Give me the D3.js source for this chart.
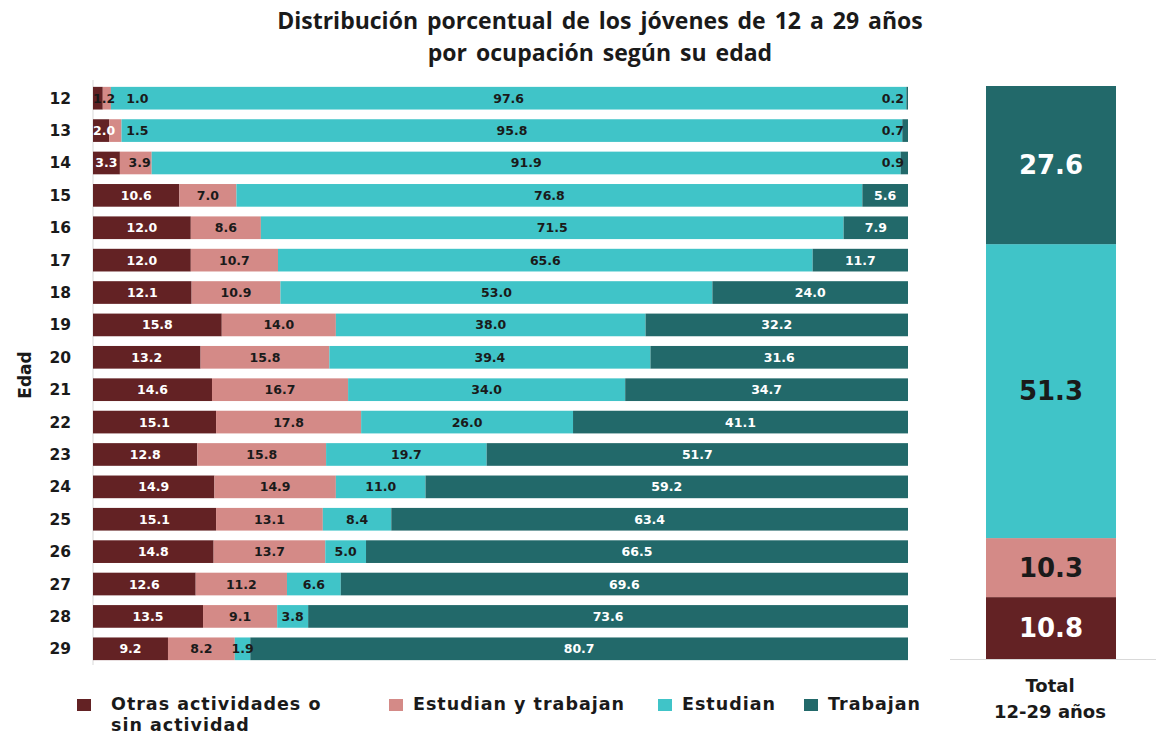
<!DOCTYPE html>
<html>
<head>
<meta charset="utf-8">
<script src="https://cdn.jsdelivr.net/npm/d3@7"></script>
<style>
  body{margin:0;background:#fff;}
  svg{display:block;}
</style>
</head>
<body>
<div id="chart"></div>
<script>
// edades (filas)
const ages = ["12","13","14","15","16","17","18","19","20","21","22","23","24","25","26","27","28","29"];
// series, en el orden en que se apilan
const series = ["Otras actividades o sin actividad", "Estudian y trabajan", "Estudian", "Trabajan"];
const otras    = [1.2, 2.0, 3.3, 10.6, 12.0, 12.0, 12.1, 15.8, 13.2, 14.6, 15.1, 12.8, 14.9, 15.1, 14.8, 12.6, 13.5, 9.2];
const estTrab  = [1.0, 1.5, 3.9, 7.0, 8.6, 10.7, 10.9, 14.0, 15.8, 16.7, 17.8, 15.8, 14.9, 13.1, 13.7, 11.2, 9.1, 8.2];
const estudian = [97.6, 95.8, 91.9, 76.8, 71.5, 65.6, 53.0, 38.0, 39.4, 34.0, 26.0, 19.7, 11.0, 8.4, 5.0, 6.6, 3.8, 1.9];
const trabajan = [0.2, 0.7, 0.9, 5.6, 7.9, 11.7, 24.0, 32.2, 31.6, 34.7, 41.1, 51.7, 59.2, 63.4, 66.5, 69.6, 73.6, 80.7];
// total 12-29 años
const totalVals = [10.8, 10.3, 51.3, 27.6];

const colors = ["#632224", "#d48a87", "#40c4c8", "#22696a"];
const labelColors = ["#ffffff", "#1a1a1a", "#1a1a1a", "#ffffff"];

const W = 1156, H = 734;
const svg = d3.select("#chart").append("svg").attr("width", W).attr("height", H);

//title
svg.append("text").attr("x", 600).attr("y", 29).attr("text-anchor", "middle")
    .style("font-family", "'Open Sans'").style("font-weight", "bold").style("font-size", "23px")
    .style("word-spacing", "3px").attr("fill", "#1a1a1a")
    .text("Distribución  porcentual  de los jóvenes de 12 a 29 años");
svg.append("text").attr("x", 600).attr("y", 61).attr("text-anchor", "middle")
    .style("font-family", "'Open Sans'").style("font-weight", "bold").style("font-size", "23px")
    .style("word-spacing", "3px").attr("fill", "#1a1a1a")
    .text("por ocupación  según su edad");

//scales
const x = d3.scaleLinear().domain([0, 100]).range([93, 908]);
const y = d3.scaleBand().domain(ages).range([82, 665]).paddingInner(0.3).paddingOuter(0.15);

//build rows
const cols = [otras, estTrab, estudian, trabajan];
const rows = ages.map((a, i) => {
    let acc = 0;
    const segs = cols.map((c, k) => {
        const s = {age: a, k: k, v: c[i], x0: acc, x1: acc + c[i]};
        acc += c[i];
        return s;
    });
    return {age: a, segs: segs};
});

//left axis line
svg.append("line").attr("x1", 93).attr("x2", 93).attr("y1", 80).attr("y2", 665)
    .attr("stroke", "#d9d9d9").attr("stroke-width", 1);

const rowG = svg.selectAll("g.row").data(rows).enter().append("g").attr("class", "row");

rowG.selectAll("rect").data(d => d.segs).enter().append("rect")
    .attr("x", d => x(d.x0))
    .attr("y", d => y(d.age))
    .attr("width", d => x(d.x1) - x(d.x0))
    .attr("height", y.bandwidth())
    .attr("fill", d => colors[d.k]);

//labels, pushed right when they would collide (like excel does)
const charW = 7.4;
rows.forEach(r => {
    let prevRight = -1e9;
    const placed = r.segs.map(s => {
        const half = (s.v.toFixed(1).length * charW) / 2;
        let cx = (x(s.x0) + x(s.x1)) / 2;
        cx = Math.max(cx, x(0) + half);
        if (prevRight > -1e9) cx = Math.max(cx, prevRight + 11 + half);
        cx = Math.min(cx, x(100) - 4 - half);
        prevRight = cx + half;
        return {s: s, cx: cx, half: half};
    });
    placed.forEach(p => {
        const inside = p.cx >= x(p.s.x0) - 1 && p.cx <= x(p.s.x1) + 1 && (x(p.s.x1) - x(p.s.x0)) > 12;
        let fill = labelColors[p.s.k];
        if (!inside) {
            // label sits on whatever segment is under it
            const v = x.invert(p.cx);
            const under = r.segs.find(q => v >= q.x0 && v <= q.x1) || r.segs[2];
            fill = labelColors[under.k];
        }
        svg.append("text")
            .attr("x", p.cx)
            .attr("y", y(r.age) + y.bandwidth() / 2 + 4.5)
            .attr("text-anchor", "middle")
            .style("font-family", "'DejaVu Sans'").style("font-weight", "bold").style("font-size", "12.5px")
            .attr("fill", fill)
            .text(p.s.v.toFixed(1));
    });
});

//age labels
svg.selectAll("text.age").data(ages).enter().append("text").attr("class", "age")
    .attr("x", 71).attr("y", d => y(d) + y.bandwidth() / 2 + 5.5)
    .attr("text-anchor", "end")
    .style("font-family", "'DejaVu Sans'").style("font-weight", "bold").style("font-size", "15.5px")
    .attr("fill", "#1a1a1a")
    .text(d => d);

svg.append("text").attr("transform", "translate(31,375) rotate(-90)")
    .attr("text-anchor", "middle")
    .style("font-family", "'DejaVu Sans'").style("font-weight", "bold").style("font-size", "17px")
    .attr("fill", "#1a1a1a").text("Edad");

//total bar
const yt = d3.scaleLinear().domain([0, 100]).range([659, 86]);
let acc = 0;
const tsegs = totalVals.map((v, k) => { const s = {k: k, v: v, y0: acc, y1: acc + v}; acc += v; return s; });
svg.selectAll("rect.total").data(tsegs).enter().append("rect").attr("class", "total")
    .attr("x", 986).attr("width", 130)
    .attr("y", d => yt(d.y1)).attr("height", d => yt(d.y0) - yt(d.y1))
    .attr("fill", d => colors[d.k]);
svg.selectAll("text.total").data(tsegs).enter().append("text").attr("class", "total")
    .attr("x", 1051).attr("y", d => (yt(d.y0) + yt(d.y1)) / 2 + 9)
    .attr("text-anchor", "middle")
    .style("font-family", "'DejaVu Sans'").style("font-weight", "bold").style("font-size", "26px")
    .attr("fill", d => labelColors[d.k])
    .text(d => d.v.toFixed(1));
svg.append("line").attr("x1", 950).attr("x2", 1156).attr("y1", 659.5).attr("y2", 659.5)
    .attr("stroke", "#d9d9d9");
svg.append("text").attr("x", 1050).attr("y", 692).attr("text-anchor", "middle")
    .style("font-family", "'DejaVu Sans'").style("font-weight", "bold").style("font-size", "18px")
    .attr("fill", "#1a1a1a").text("Total");
svg.append("text").attr("x", 1050).attr("y", 718).attr("text-anchor", "middle")
    .style("font-family", "'DejaVu Sans'").style("font-weight", "bold").style("font-size", "18px")
    .attr("fill", "#1a1a1a").text("12-29 años");

//legend
const legX = [77, 389, 658, 804];
const legLines = [["Otras actividades o", "sin actividad"], ["Estudian y trabajan"], ["Estudian"], ["Trabajan"]];
legLines.forEach((lines, k) => {
    svg.append("rect").attr("x", legX[k]).attr("y", 699).attr("width", 14).attr("height", 12).attr("fill", colors[k]);
    lines.forEach((t, j) => {
        svg.append("text").attr("x", legX[k] + (k == 0 ? 34 : 24)).attr("y", 710 + j * 20.5)
            .style("font-family", "'DejaVu Sans'").style("font-weight", "bold").style("font-size", "17.5px")
            .style("letter-spacing", "1px")
            .attr("fill", "#1a1a1a").text(t);
    });
});
</script>
</body>
</html>
